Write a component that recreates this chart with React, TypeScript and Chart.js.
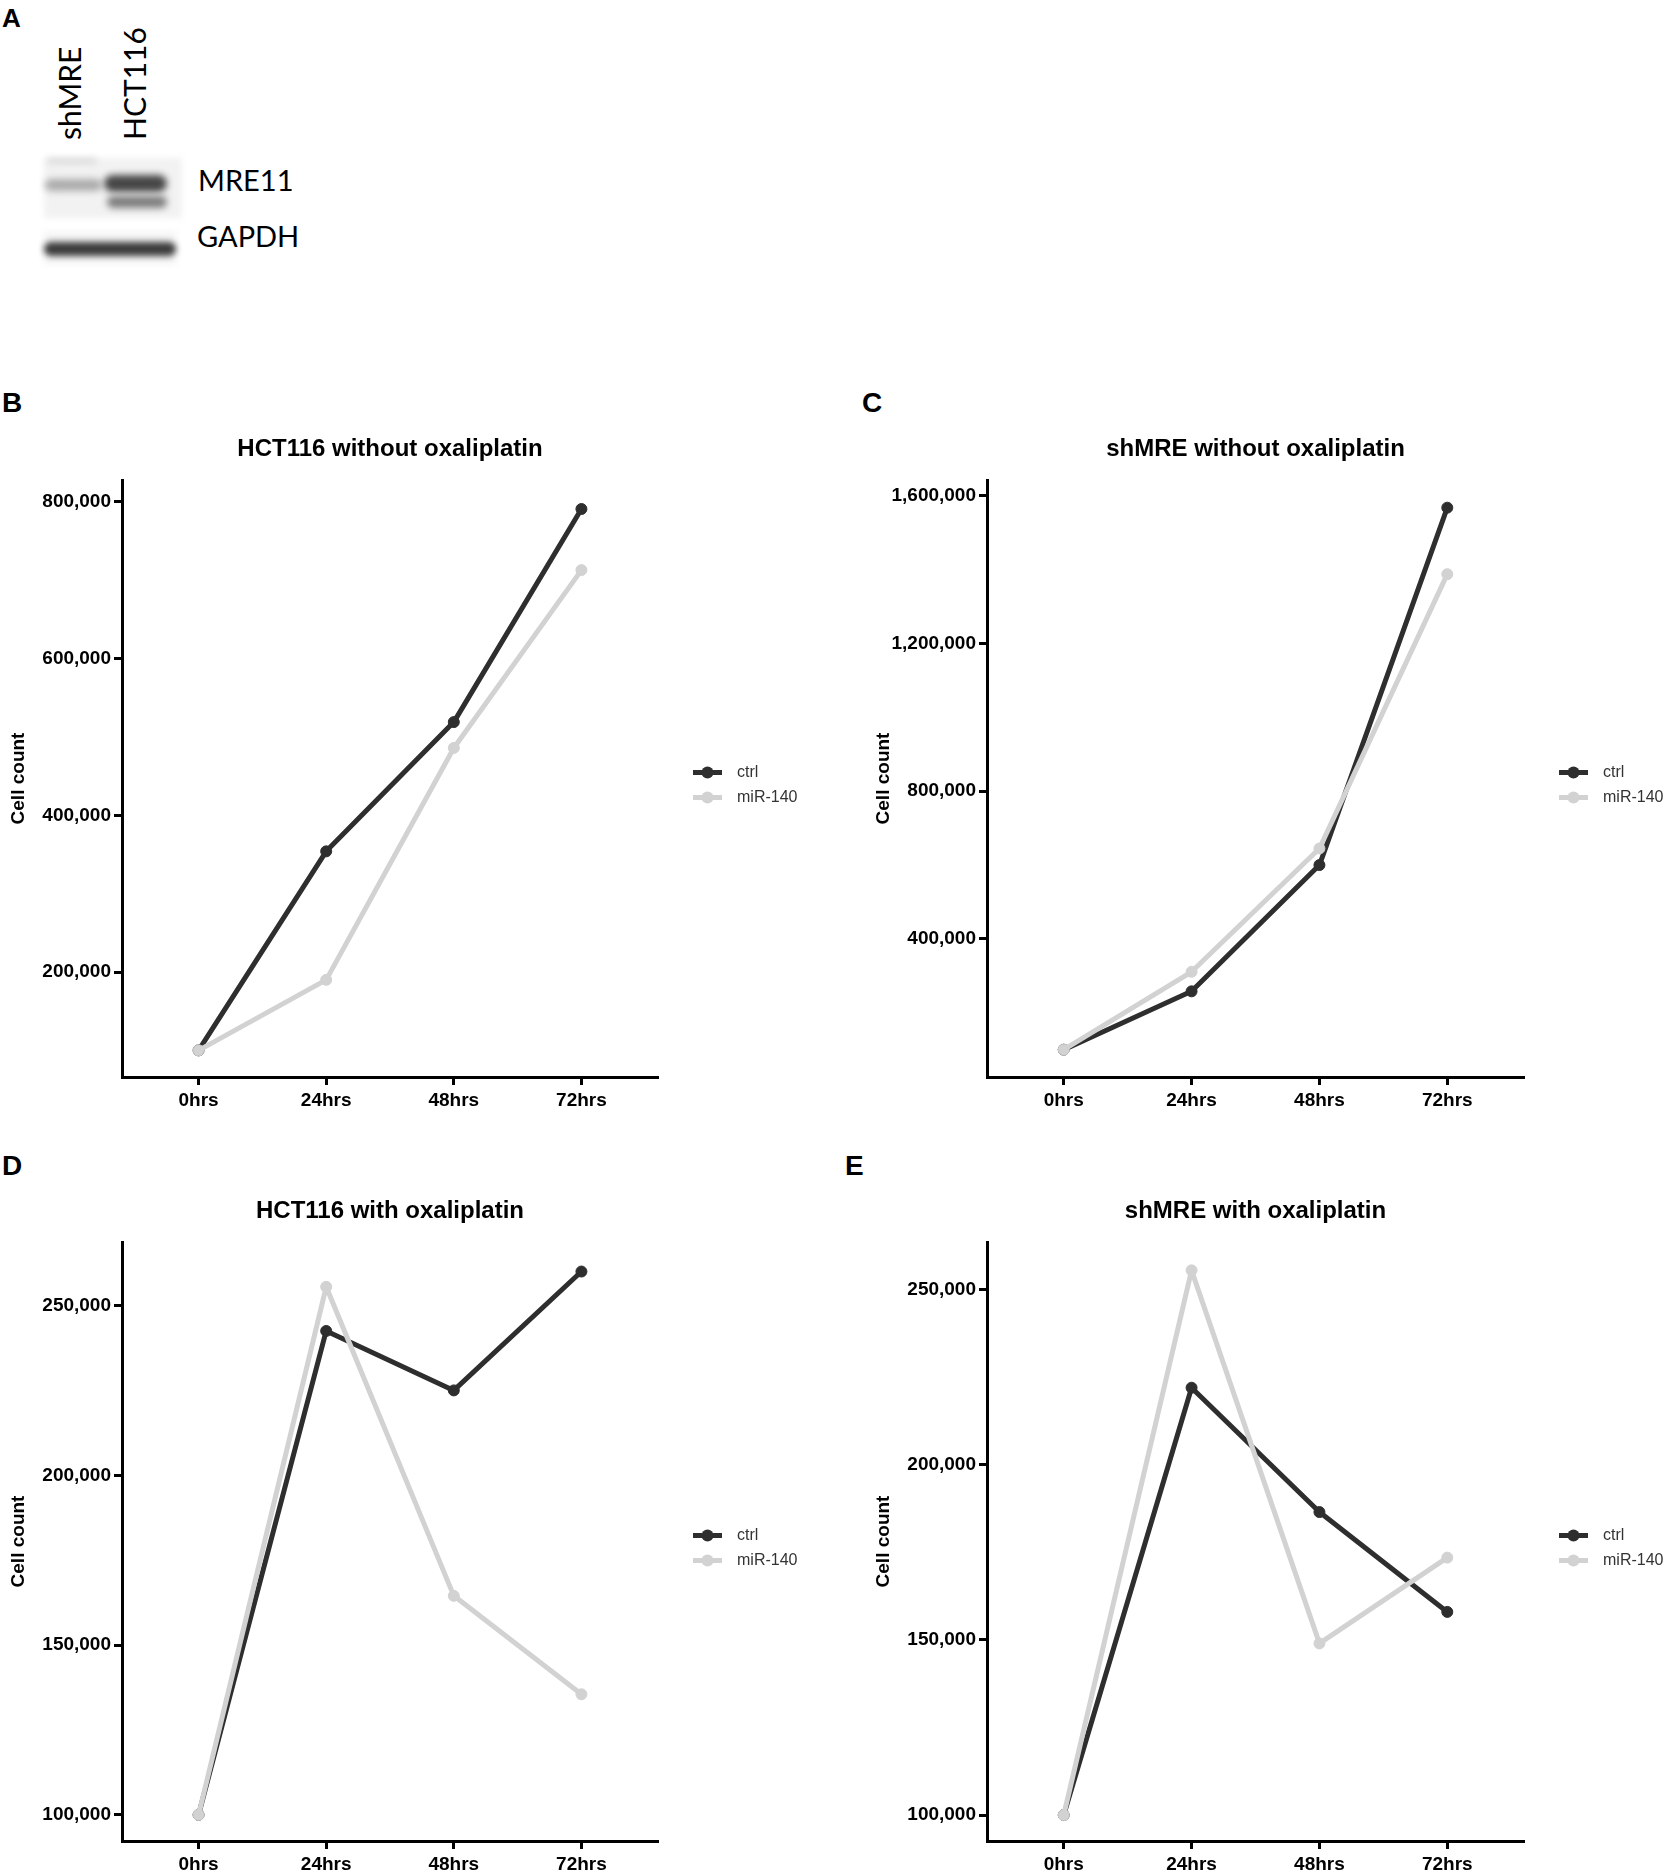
import React, { useEffect, useRef } from "react";
import { Chart, registerables } from "chart.js";

Chart.register(...registerables);

// ---------- data ----------
const timeLabels = ["0hrs", "24hrs", "48hrs", "72hrs"];
const seriesNames = ["ctrl", "miR-140"];

const hctNoOxCtrl = [100000, 354000, 519000, 791000];
const hctNoOxMir = [100000, 190000, 486000, 713000];
const hctNoOxTicks = [200000, 400000, 600000, 800000];

const shNoOxCtrl = [100000, 258000, 600000, 1568000];
const shNoOxMir = [100000, 311000, 645000, 1388000];
const shNoOxTicks = [400000, 800000, 1200000, 1600000];

const hctOxCtrl = [100000, 242500, 225000, 260000];
const hctOxMir = [100000, 255500, 164500, 135500];
const hctOxTicks = [100000, 150000, 200000, 250000];

const shOxCtrl = [100000, 222000, 186500, 158000];
const shOxMir = [100000, 255500, 149000, 173500];
const shOxTicks = [100000, 150000, 200000, 250000];

const CTRL_COLOR = "#2e2e2e";
const MIR_COLOR = "#d2d2d2";
const FONT = "'Liberation Sans', Arial, sans-serif";

Chart.defaults.font.family = FONT;

const sideLegend = {
  id: "sideLegend",
  afterDraw(chart: any) {
    const { ctx, chartArea } = chart;
    const cy = (chartArea.top + chartArea.bottom) / 2;
    chart.data.datasets.forEach((ds: any, i: number) => {
      const y = cy - 6 + i * 25;
      const x0 = chartArea.right + 35;
      ctx.save();
      ctx.strokeStyle = ds.borderColor;
      ctx.lineWidth = 5;
      ctx.beginPath();
      ctx.moveTo(x0, y);
      ctx.lineTo(x0 + 29, y);
      ctx.stroke();
      ctx.fillStyle = ds.borderColor;
      ctx.beginPath();
      ctx.arc(x0 + 14.5, y, 6, 0, Math.PI * 2);
      ctx.fill();
      ctx.fillStyle = "#333";
      ctx.font = `16px ${FONT}`;
      ctx.textBaseline = "middle";
      ctx.textAlign = "left";
      ctx.fillText(ds.label, x0 + 44, y);
      ctx.restore();
    });
  },
};

type PanelProps = {
  title: string;
  ctrl: number[];
  mir: number[];
  ticks: number[];
  yMin: number;
  yMax: number;
  left: number;
  top: number;
  width: number;
  height: number;
  padRight: number;
  xAxisHeight: number;
};

function Panel(p: PanelProps) {
  const ref = useRef<HTMLCanvasElement | null>(null);
  useEffect(() => {
    if (!ref.current) return;
    const mk = (vals: number[]) => vals.map((v, i) => ({ x: i, y: v }));
    const chart = new Chart(ref.current, {
      type: "line",
      data: {
        datasets: [
          {
            label: seriesNames[0],
            data: mk(p.ctrl),
            borderColor: CTRL_COLOR,
            backgroundColor: CTRL_COLOR,
            pointBackgroundColor: CTRL_COLOR,
            pointBorderColor: CTRL_COLOR,
            borderWidth: 5,
            pointRadius: 5.5,
            pointBorderWidth: 1,
            borderJoinStyle: "round",
            borderCapStyle: "round",
            order: 1,
          },
          {
            label: seriesNames[1],
            data: mk(p.mir),
            borderColor: MIR_COLOR,
            backgroundColor: MIR_COLOR,
            pointBackgroundColor: MIR_COLOR,
            pointBorderColor: MIR_COLOR,
            borderWidth: 5,
            pointRadius: 5.5,
            pointBorderWidth: 1,
            borderJoinStyle: "round",
            borderCapStyle: "round",
            order: 0,
          },
        ],
      },
      options: {
        animation: false,
        responsive: false,
        devicePixelRatio: 1,
        layout: { padding: { left: 0, right: p.padRight, top: 0, bottom: 0 } },
        plugins: {
          legend: { display: false },
          tooltip: { enabled: false },
          title: {
            display: true,
            text: p.title,
            fullSize: false,
            color: "#000",
            font: { size: 24, weight: "bold" },
            padding: { top: 14.6, bottom: 16.6 },
          },
        },
        scales: {
          x: {
            type: "linear",
            min: -0.6,
            max: 3.6,
            afterBuildTicks: (s: any) => {
              s.ticks = timeLabels.map((_, i) => ({ value: i }));
            },
            afterFit: (s: any) => {
              s.height = p.xAxisHeight;
            },
            grid: {
              display: true,
              drawOnChartArea: false,
              drawTicks: true,
              tickLength: 8,
              tickWidth: 3,
              tickColor: "#000",
            },
            border: { display: true, width: 3, color: "#000" },
            ticks: {
              padding: 4,
              color: "#000",
              maxRotation: 0,
              autoSkip: false,
              font: { size: 19, weight: "bold" },
              callback: (v: any) => timeLabels[Math.round(Number(v))] ?? "",
            },
          },
          y: {
            type: "linear",
            min: p.yMin,
            max: p.yMax,
            afterBuildTicks: (s: any) => {
              s.ticks = p.ticks.map((v) => ({ value: v }));
            },
            afterFit: (s: any) => {
              s.width = 122;
            },
            grid: {
              display: true,
              drawOnChartArea: false,
              drawTicks: true,
              tickLength: 8,
              tickWidth: 3,
              tickColor: "#000",
            },
            border: { display: true, width: 3, color: "#000" },
            ticks: {
              padding: 3,
              color: "#000",
              autoSkip: false,
              font: { size: 19, weight: "bold" },
              callback: (v: any) => Number(v).toLocaleString("en-US"),
            },
            title: {
              display: true,
              text: "Cell count",
              color: "#000",
              font: { size: 19, weight: "bold" },
              padding: { top: 7, bottom: 0 },
            },
          },
        },
      },
      plugins: [sideLegend],
    } as any);
    return () => chart.destroy();
  }, []);
  return (
    <canvas
      ref={ref}
      width={p.width}
      height={p.height}
      style={{
        position: "absolute",
        left: p.left,
        top: p.top,
        width: p.width,
        height: p.height,
      }}
    />
  );
}

function Text(props: {
  text: string;
  left: number;
  cy: number;
  size: number;
  bold?: boolean;
  family?: string;
  capCenter?: number;
}) {
  const cc = props.capCenter ?? 0.4885;
  return (
    <div
      style={{
        position: "absolute",
        left: props.left,
        top: props.cy - cc * props.size,
        fontSize: props.size,
        lineHeight: 1,
        fontFamily: props.family ?? FONT,
        fontWeight: props.bold ? "bold" : "normal",
        color: "#000",
        whiteSpace: "nowrap",
      }}
    >
      {props.text}
    </div>
  );
}

function VText(props: { text: string; cx: number; bottom: number; size: number }) {
  const cc = 0.5285;
  return (
    <div
      style={{
        position: "absolute",
        left: props.cx - cc * props.size,
        top: props.bottom,
        fontSize: props.size,
        lineHeight: 1,
        fontFamily: "Lato, sans-serif",
        color: "#000",
        whiteSpace: "nowrap",
        transform: "rotate(-90deg)",
        transformOrigin: "0 0",
      }}
    >
      {props.text}
    </div>
  );
}

function Band(props: { l: number; t: number; w: number; h: number; c: string; b: number }) {
  return (
    <div
      style={{
        position: "absolute",
        left: props.l,
        top: props.t,
        width: props.w,
        height: props.h,
        background: props.c,
        borderRadius: props.h / 2,
        filter: `blur(${props.b}px)`,
      }}
    />
  );
}

export default function App() {
  return (
    <div
      style={{
        position: "absolute",
        left: 0,
        top: 0,
        width: 1670,
        height: 1874,
        overflow: "hidden",
        background: "#fff",
      }}
    >
      {/* Panel A: western blot */}
      <Text text="A" left={2} cy={18} size={26} bold />
      <VText text="shMRE" cx={70} bottom={140} size={30} />
      <VText text="HCT116" cx={135} bottom={140} size={30} />
      <div
        style={{
          position: "absolute",
          left: 44,
          top: 158,
          width: 138,
          height: 60,
          background: "#f2f2f2",
          filter: "blur(3px)",
        }}
      />
      <Band l={47} t={158} w={50} h={6} c="#dcdcdc" b={3} />
      <Band l={45} t={179} w={57} h={12} c="#ababab" b={3.5} />
      <Band l={104} t={175} w={63} h={17} c="#464646" b={3.5} />
      <Band l={107} t={196} w={60} h={12} c="#7c7c7c" b={3.5} />
      <div
        style={{
          position: "absolute",
          left: 44,
          top: 232,
          width: 132,
          height: 32,
          background: "#f4f4f4",
          filter: "blur(3px)",
        }}
      />
      <Band l={44} t={242} w={132} h={14} c="#3c3c3c" b={3} />
      <Text text="MRE11" left={198} cy={180} size={29} family="Lato, sans-serif" capCenter={0.5285} />
      <Text text="GAPDH" left={197} cy={236} size={29} family="Lato, sans-serif" capCenter={0.5285} />

      {/* panel letters */}
      <Text text="B" left={2} cy={403} size={28} bold />
      <Text text="C" left={862} cy={403} size={28} bold />
      <Text text="D" left={2} cy={1166} size={28} bold />
      <Text text="E" left={845} cy={1166} size={28} bold />

      <Panel
        title="HCT116 without oxaliplatin"
        ctrl={hctNoOxCtrl}
        mir={hctNoOxMir}
        ticks={hctNoOxTicks}
        yMin={66000}
        yMax={828000}
        left={0}
        top={420}
        width={860}
        height={700}
        padRight={202}
        xAxisHeight={43}
      />
      <Panel
        title="shMRE without oxaliplatin"
        ctrl={shNoOxCtrl}
        mir={shNoOxMir}
        ticks={shNoOxTicks}
        yMin={26000}
        yMax={1643000}
        left={865}
        top={420}
        width={805}
        height={700}
        padRight={146}
        xAxisHeight={43}
      />
      <Panel
        title="HCT116 with oxaliplatin"
        ctrl={hctOxCtrl}
        mir={hctOxMir}
        ticks={hctOxTicks}
        yMin={92300}
        yMax={268700}
        left={0}
        top={1182}
        width={860}
        height={692}
        padRight={202}
        xAxisHeight={33}
      />
      <Panel
        title="shMRE with oxaliplatin"
        ctrl={shOxCtrl}
        mir={shOxMir}
        ticks={shOxTicks}
        yMin={92600}
        yMax={263600}
        left={865}
        top={1182}
        width={805}
        height={692}
        padRight={146}
        xAxisHeight={33}
      />
    </div>
  );
}
